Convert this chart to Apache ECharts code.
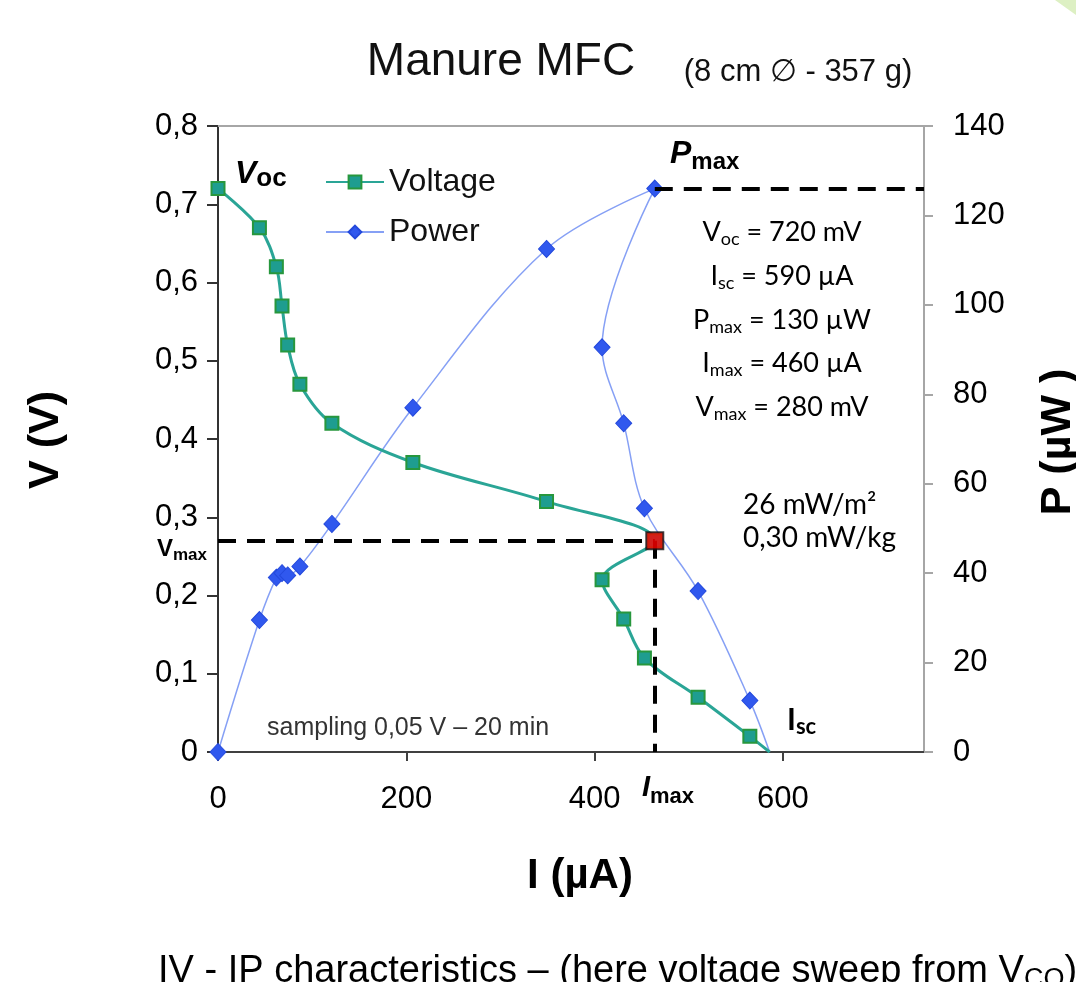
<!DOCTYPE html>
<html>
<head>
<meta charset="utf-8">
<script src="https://cdn.jsdelivr.net/npm/echarts@6/dist/echarts.min.js"></script>
<style>
  html, body { margin: 0; padding: 0; background: #fff; }
  #chart { width: 1076px; height: 982px; }
</style>
</head>
<body>
<div id="chart"></div>
<script>
// values (sweep order, starting at Voc)
var current = [0, 44, 62, 68, 74, 87, 121, 207, 349, 464, 408, 431, 453, 510, 565, 586]   // µA
var voltage = [0.72, 0.67, 0.62, 0.57, 0.52, 0.47, 0.42, 0.37, 0.32, 0.27, 0.22, 0.17, 0.12, 0.07, 0.02, 0]   // V
var power = [0, 29.5, 39, 40, 39.5, 41.5, 51, 77, 112.5, 126, 90.5, 73.5, 54.5, 36, 11.5, 0]   // µW

// maximum power point
var maxPoint = { current: 464, voltage: 0.27, power: 126 }

// axis ticks
var currentTicks = [0, 200, 400, 600]
var voltageTicks = [0, 0.1, 0.2, 0.3, 0.4, 0.5, 0.6, 0.7, 0.8]
var powerTicks = [0, 20, 40, 60, 80, 100, 120, 140]
var currentMax = 750

var ARIAL = 'Liberation Sans, Arial, sans-serif'
var CALIBRI = 'Lato, Noto Sans, sans-serif'

function pairs (ys) {
  return current.map(function (c, i) {
    var item = { value: [c, ys[i]] }
    // the sweep ends on the axis without a marker
    if (i === current.length - 1) item.symbol = 'none'
    return item
  })
}

var dashed = { color: '#000', type: [18, 11], width: 4 }

// text with a subscript part, done with rich text
function subText (x, y, main, sub, m, s, align, tail) {
  var rich = {
    m: { fontFamily: m.family, fontSize: m.size, fontWeight: m.weight || 'normal', fontStyle: m.style || 'normal', lineHeight: m.lh, fill: '#000' },
    s: { fontFamily: s.family, fontSize: s.size, fontWeight: s.weight || 'normal', lineHeight: s.lh, verticalAlign: 'bottom', fill: '#000' }
  }
  var text = '{m|' + main + '}{s|' + sub + '}'
  if (tail) text += '{m|' + tail + '}'
  return {
    type: 'text',
    x: x,
    y: y,
    style: { text: text, rich: rich, align: align || 'left', verticalAlign: 'middle' }
  }
}

var block = { family: CALIBRI, size: 27, lh: 32 }
var blockSub = { family: CALIBRI, size: 18, lh: 16 }

var chart = echarts.init(document.getElementById('chart'))
chart.setOption({
  backgroundColor: '#fff',
  animation: false,
  grid: { left: 218, right: 152, top: 126, bottom: 230, containLabel: false, outerBoundsMode: 'none' },
  legend: {
    data: ['Voltage', 'Power'],
    orient: 'vertical',
    left: 320,
    top: 161,
    itemWidth: 58,
    itemHeight: 16,
    itemGap: 18,
    textStyle: { fontFamily: ARIAL, fontSize: 32, color: '#111' }
  },
  xAxis: [
    {
      type: 'value',
      min: 0,
      max: currentMax,
      interval: 200,
      splitLine: { show: false },
      axisLine: { onZero: false, lineStyle: { color: '#404040', width: 2 } },
      axisTick: { inside: false, length: 9, customValues: currentTicks, lineStyle: { color: '#404040', width: 2 } },
      axisLabel: { customValues: currentTicks, margin: 32, fontFamily: ARIAL, fontSize: 31, color: '#000' }
    },
    {
      type: 'value',
      position: 'top',
      min: 0,
      max: currentMax,
      splitLine: { show: false },
      axisLine: { show: true, onZero: false, lineStyle: { color: '#a6a6a6', width: 2 } },
      axisTick: { show: false },
      axisLabel: { show: false }
    }
  ],
  yAxis: [
    {
      type: 'value',
      min: voltageTicks[0],
      max: voltageTicks[voltageTicks.length - 1],
      interval: 0.1,
      position: 'left',
      splitLine: { show: false },
      axisLine: { show: true, onZero: false, lineStyle: { color: '#333', width: 2 } },
      axisTick: { show: true, length: 11, lineStyle: { color: '#333', width: 2 } },
      axisLabel: {
        margin: 20,
        fontFamily: ARIAL,
        fontSize: 31,
        color: '#000',
        formatter: function (v) { return v === 0 ? '0' : v.toFixed(1).replace('.', ',') }
      }
    },
    {
      type: 'value',
      min: powerTicks[0],
      max: powerTicks[powerTicks.length - 1],
      interval: 20,
      position: 'right',
      splitLine: { show: false },
      axisLine: { show: true, onZero: false, lineStyle: { color: '#a6a6a6', width: 2 } },
      axisTick: { show: true, length: 9, lineStyle: { color: '#a6a6a6', width: 2 } },
      axisLabel: { margin: 29, fontFamily: ARIAL, fontSize: 31, color: '#000' }
    }
  ],
  series: [
    {
      name: 'Voltage',
      type: 'line',
      yAxisIndex: 0,
      smooth: 0.35,
      clip: false,
      symbol: 'rect',
      symbolSize: 13,
      data: pairs(voltage),
      lineStyle: { color: '#2aa596', width: 3 },
      itemStyle: { color: '#1e9d90', borderColor: '#27973d', borderWidth: 2 },
      z: 3,
      markLine: {
        silent: true,
        symbol: 'none',
        label: { show: false },
        lineStyle: dashed,
        data: [
          [{ coord: [0, maxPoint.voltage] }, { coord: [maxPoint.current, maxPoint.voltage] }],
          [{ coord: [maxPoint.current, maxPoint.voltage] }, { coord: [maxPoint.current, 0] }]
        ]
      }
    },
    {
      name: 'Power',
      type: 'line',
      yAxisIndex: 1,
      smooth: 0.35,
      clip: false,
      symbol: 'diamond',
      symbolSize: [16, 17],
      data: pairs(power),
      lineStyle: { color: '#86a0f5', width: 1.5 },
      itemStyle: { color: '#3058ee', borderColor: '#2449dc', borderWidth: 1 },
      z: 2,
      markLine: {
        silent: true,
        symbol: 'none',
        label: { show: false },
        lineStyle: dashed,
        data: [
          [{ coord: [maxPoint.current, maxPoint.power] }, { coord: [currentMax, maxPoint.power] }]
        ]
      }
    },
    {
      name: 'max',
      type: 'scatter',
      yAxisIndex: 0,
      clip: false,
      symbol: 'rect',
      symbolSize: 17,
      data: [[maxPoint.current, maxPoint.voltage]],
      itemStyle: { color: '#ff0000', borderColor: '#111', borderWidth: 2 },
      z: 5
    }
  ],
  graphic: [
    { type: 'polygon', shape: { points: [[1055, 0], [1076, 0], [1076, 15]] }, style: { fill: '#ddf0c3' } },
    { type: 'text', x: 501, y: 62, style: { text: 'Manure MFC', font: '46px ' + ARIAL, fill: '#111', align: 'center', verticalAlign: 'middle' } },
    { type: 'text', x: 798, y: 72, style: { text: '(8 cm \u2205 - 357 g)', font: '31px ' + ARIAL, fill: '#111', align: 'center', verticalAlign: 'middle' } },
    { type: 'text', x: 46, y: 440, rotation: Math.PI / 2, style: { text: 'V (V)', font: 'bold 43px ' + ARIAL, fill: '#000', align: 'center', verticalAlign: 'middle' } },
    { type: 'text', x: 1058, y: 442, rotation: Math.PI / 2, style: { text: 'P (\u00b5W )', font: 'bold 43px ' + ARIAL, fill: '#000', align: 'center', verticalAlign: 'middle' } },
    { type: 'text', x: 580, y: 876, style: { text: 'I (\u00b5A)', font: 'bold 42px ' + ARIAL, fill: '#000', align: 'center', verticalAlign: 'middle' } },
    { type: 'text', x: 267, y: 728, style: { text: 'sampling 0,05 V \u2013 20 min', font: '25px ' + ARIAL, fill: '#333', align: 'left', verticalAlign: 'middle' } },

    subText(235, 174, 'V', 'oc', { family: ARIAL, size: 32, weight: 'bold', style: 'italic', lh: 36 }, { family: ARIAL, size: 26, weight: 'bold', lh: 15 }),
    subText(670, 154, 'P', 'max', { family: ARIAL, size: 32, weight: 'bold', style: 'italic', lh: 40 }, { family: ARIAL, size: 24, weight: 'bold', lh: 14 }),
    subText(157, 549, 'V', 'max', { family: ARIAL, size: 24, weight: 'bold', lh: 30 }, { family: ARIAL, size: 17, weight: 'bold', lh: 14 }),
    subText(642, 788, 'I', 'max', { family: ARIAL, size: 29, weight: 'bold', style: 'italic', lh: 40 }, { family: ARIAL, size: 22, weight: 'bold', lh: 15 }),
    subText(787, 720, 'I', 'sc', { family: CALIBRI, size: 30, weight: 'bold', lh: 36 }, { family: CALIBRI, size: 22, weight: 'bold', lh: 14 }),

    subText(782, 232, 'V', 'oc', block, blockSub, 'center', ' = 720 mV'),
    subText(782, 276, 'I', 'sc', block, blockSub, 'center', ' = 590 \u00b5A'),
    subText(782, 320, 'P', 'max', block, blockSub, 'center', ' = 130 \u00b5W'),
    subText(782, 363, 'I', 'max', block, blockSub, 'center', ' = 460 \u00b5A'),
    subText(782, 407, 'V', 'max', block, blockSub, 'center', ' = 280 mV'),
    { type: 'text', x: 743, y: 505, style: { text: '26 mW/m\u00b2', font: '28px ' + CALIBRI, fill: '#000', align: 'left', verticalAlign: 'middle' } },
    { type: 'text', x: 743, y: 538, style: { text: '0,30 mW/kg', font: '28px ' + CALIBRI, fill: '#000', align: 'left', verticalAlign: 'middle' } },

    subText(158, 972, 'IV - IP characteristics \u2013 (here voltage sweep from V', 'CO', { family: ARIAL, size: 38, lh: 42 }, { family: ARIAL, size: 27, lh: 22 }, 'left', ')')
  ]
})
</script>
</body>
</html>
